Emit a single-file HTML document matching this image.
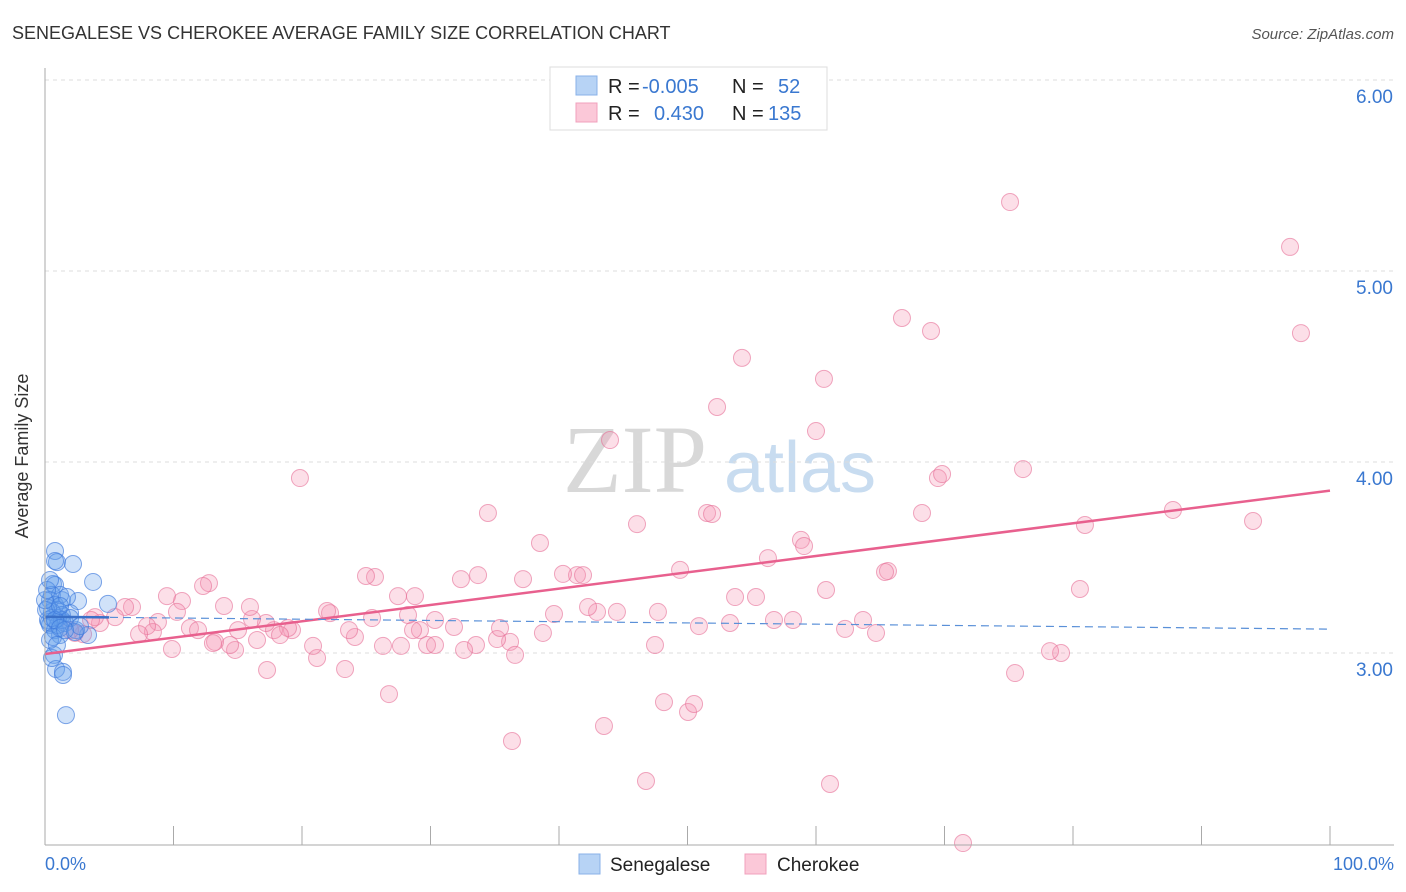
<!DOCTYPE html>
<html><head><meta charset="utf-8"><style>
body{margin:0;background:#fff;font-family:"Liberation Sans",sans-serif;}
svg{display:block}
</style></head><body>
<svg id="c" width="1406" height="892">
<text x="12" y="39" font-size="18" fill="#333">SENEGALESE VS CHEROKEE AVERAGE FAMILY SIZE CORRELATION CHART</text>
<text x="1394" y="39" font-size="15" fill="#555" font-style="italic" text-anchor="end">Source: ZipAtlas.com</text>
<text x="28" y="456" font-size="18" fill="#333" text-anchor="middle" transform="rotate(-90 28 456)">Average Family Size</text>
<text x="635" y="492" font-size="96" fill="#d8d8d8" font-family="Liberation Serif,serif" text-anchor="middle">ZIP</text>
<text x="800" y="492" font-size="72" fill="#c8dcf0" text-anchor="middle">atlas</text>
<g id="grid"></g><g id="pts"></g><g id="trend"></g>
<line x1="45" y1="68" x2="45" y2="845" stroke="#aaa"/>
<line x1="45" y1="845" x2="1394" y2="845" stroke="#aaa"/>
<text x="45" y="870" font-size="18" fill="#3a78d0">0.0%</text>
<text x="1394" y="870" font-size="18" fill="#3a78d0" text-anchor="end">100.0%</text>
<g>
<rect x="550" y="67" width="277" height="63" fill="#fff" stroke="#ddd"/>
<rect x="576" y="76" width="21" height="19" fill="#b7d3f5" stroke="#88b2e8"/>
<rect x="576" y="103" width="21" height="19" fill="#fbc8d8" stroke="#f0a0bc"/>
<text x="608" y="93" font-size="20" fill="#222">R = </text><text x="642" y="93" font-size="20" fill="#3a78d0">-0.005</text>
<text x="732" y="93" font-size="20" fill="#222">N = </text><text x="778" y="93" font-size="20" fill="#3a78d0">52</text>
<text x="608" y="120" font-size="20" fill="#222">R = </text><text x="654" y="120" font-size="20" fill="#3a78d0">0.430</text>
<text x="732" y="120" font-size="20" fill="#222">N = </text><text x="768" y="120" font-size="20" fill="#3a78d0">135</text>
</g>
<g>
<rect x="579" y="854" width="21" height="20" fill="#b7d3f5" stroke="#88b2e8"/>
<text x="610" y="871" font-size="19" fill="#222">Senegalese</text>
<rect x="745" y="854" width="21" height="20" fill="#fbc8d8" stroke="#f0a0bc"/>
<text x="777" y="871" font-size="19" fill="#222">Cherokee</text>
</g>
</svg>
<script>
const yTicks=[3,4,5,6];
const yTickLabels=["3.00","4.00","5.00","6.00"];
const xTicks=[0,10,20,30,40,50,60,70,80,90,100];
const pinkPx=[[300,478],[488,513],[540,543],[610,440],[637,524],[680,570],[717,407],[742,358],[707,513],[712,514],[801,540],[804,546],[824,379],[816,431],[902,318],[931,331],[1010,202],[1290,247],[1301,333],[938,478],[942,474],[1023,469],[922,513],[1085,525],[1173,510],[1253,521],[1080,589],[1061,653],[1015,673],[888,571],[885,572],[826,590],[768,558],[756,597],[735,597],[730,623],[699,626],[774,620],[793,620],[863,620],[845,629],[876,633],[655,645],[658,612],[617,612],[597,612],[588,607],[577,575],[583,575],[563,574],[523,579],[478,575],[461,579],[510,642],[515,655],[497,639],[543,633],[554,614],[476,645],[464,650],[500,628],[454,627],[435,620],[420,630],[413,630],[408,615],[401,646],[398,596],[383,646],[375,577],[366,576],[372,618],[355,637],[349,630],[330,613],[327,611],[317,658],[313,646],[345,669],[292,630],[288,628],[274,630],[280,635],[266,623],[252,619],[250,607],[257,640],[238,630],[235,650],[230,645],[224,606],[209,583],[203,586],[182,601],[177,612],[190,628],[198,630],[215,642],[167,596],[158,622],[153,632],[147,626],[139,634],[132,607],[125,607],[115,617],[100,623],[95,617],[91,620],[83,634],[75,633],[70,630],[172,649],[213,643],[267,670],[389,694],[512,741],[604,726],[646,781],[664,702],[688,712],[694,704],[830,784],[963,843],[1050,651],[427,645],[435,645],[415,596]];
const bluePx=[[55,551],[57,562],[55,561],[73,564],[93,582],[53,584],[55,585],[108,604],[62,600],[78,601],[70,613],[52,595],[50,600],[55,605],[58,610],[62,615],[48,620],[50,625],[55,630],[60,635],[65,623],[58,618],[52,612],[48,608],[60,595],[67,597],[88,635],[76,630],[54,655],[56,669],[52,658],[63,672],[63,675],[66,715],[50,640],[58,625],[62,620],[70,618],[49,622],[52,618],[46,610],[55,620],[60,628],[53,637],[75,632],[80,626],[45,600],[47,590],[50,580],[60,606],[57,645],[65,630]];
// convert estimated reading to data values (percent, family size)
const pinkX=pinkPx.map(p=>+((p[0]-45)/12.85).toFixed(2));
const pinkY=pinkPx.map(p=>+(3+(653-p[1])/191).toFixed(3));
const blueX=bluePx.map(p=>+((p[0]-45)/12.85).toFixed(2));
const blueY=bluePx.map(p=>+(3+(653-p[1])/191).toFixed(3));
const pinkTrend=[2.995,3.85];
const blueTrend=[3.19,3.125];
const X=v=>45+v*12.85, Y=v=>653-(v-3)*191;
const NS="http://www.w3.org/2000/svg";
function mk(t,a,parent){const e=document.createElementNS(NS,t);for(const k in a)e.setAttribute(k,a[k]);document.getElementById(parent).appendChild(e);return e;}
yTicks.forEach((t,i)=>{
 const l=mk('line',{x1:45,x2:1394,y1:Y(t),y2:Y(t),stroke:'#ddd','stroke-dasharray':'4,4'},'grid');
 
 
 const tx=mk('text',{x:1393,y:Y(t)+23,'font-size':19,fill:'#3a78d0','text-anchor':'end'},'grid');
 tx.textContent=yTickLabels[i];
 
 
});
xTicks.forEach(t=>{
 const l=mk('line',{x1:X(t),x2:X(t),y1:826,y2:845,stroke:'#aaa'},'grid');
 
 
});
pinkX.forEach((x,i)=>{
 const c=mk('circle',{cx:X(x),cy:Y(pinkY[i]),r:8.5,fill:'rgba(245,150,180,0.3)',stroke:'rgba(230,110,150,0.6)','stroke-width':1},'pts');
 
 
});
blueX.forEach((x,i)=>{
 const c=mk('circle',{cx:X(x),cy:Y(blueY[i]),r:8.5,fill:'rgba(100,160,235,0.3)',stroke:'rgba(60,120,220,0.65)','stroke-width':1},'pts');
 
 
});
let t1=mk('line',{x1:X(0),x2:X(100),y1:Y(pinkTrend[0]),y2:Y(pinkTrend[1]),stroke:'#e8608e','stroke-width':2.5},'trend');


let t2=mk('line',{x1:X(0),x2:X(100),y1:Y(blueTrend[0]),y2:Y(blueTrend[1]),stroke:'#5a90d8','stroke-width':1.2,'stroke-dasharray':'8,5'},'trend');


let t3=mk('line',{x1:X(0),x2:X(5),y1:Y(blueTrend[0]),y2:Y(blueTrend[0]+(blueTrend[1]-blueTrend[0])*0.05),stroke:'#3a70c8','stroke-width':2.5},'trend');


</script>
</body></html>
